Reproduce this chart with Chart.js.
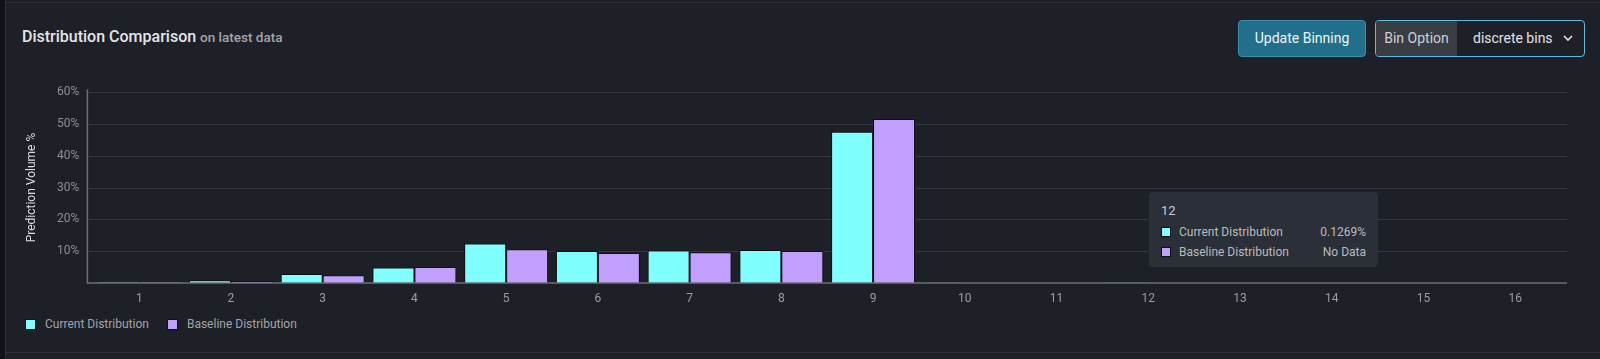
<!DOCTYPE html>
<html>
<head>
<meta charset="utf-8">
<script src="https://cdn.jsdelivr.net/npm/chart.js@4.4.0/dist/chart.umd.min.js"></script>
<style>
  html, body { margin: 0; padding: 0; }
  body { width: 1600px; height: 359px; background: #1e2028; font-family: Roboto, "Noto Sans", sans-serif; position: relative; overflow: hidden; }
  .strip { position: absolute; left: 0; top: 0; width: 5px; height: 359px; background: #111318; border-right: 1px solid #2c2f36; }
  .topline { position: absolute; left: 5px; right: 0; top: 2px; height: 1px; background: #2c2f36; }
  .botline { position: absolute; left: 5px; right: 0; top: 352px; height: 1px; background: #2c2f36; }
  .title { position: absolute; left: 22px; top: 27px; color: #e4e5e7; font-size: 16px; font-weight: 500; }
  .title span { color: #a3a5aa; font-size: 13.5px; }
  .btn { position: absolute; left: 1238px; top: 20px; width: 126px; height: 35px; background: #226f8c; border: 1px solid #3a8fb0; border-radius: 4px; color: #eef3f5; font-size: 14px; line-height: 35px; text-align: center; }
  .sel { position: absolute; left: 1375px; top: 20px; width: 208px; height: 35px; border: 1px solid #62b9de; border-radius: 4px; overflow: hidden; color: #e2e3e5; font-size: 14px; line-height: 35px; }
  .sel .lab { position: absolute; left: 0; top: 0; width: 81px; height: 35px; background: #3a3d44; color: #cfd1d4; text-align: center; }
  .sel .val { position: absolute; left: 97px; top: 0; }
  .sel svg { position: absolute; left: 187px; top: 14px; }
  #wrap { position: absolute; left: 0; top: 71px; width: 1600px; height: 239px; }
  .legend { position: absolute; top: 317px; left: 25px; font-size: 12px; color: #a2a4a9; display: flex; }
  .legend .it { display: flex; align-items: center; margin-right: 18px; }
  .legend i { display: inline-block; width: 9px; height: 9px; margin-right: 9px; border: 1px solid #111; }
  .tip { position: absolute; left: 1149px; top: 192px; width: 229px; height: 75px; background: #2b2f37; border-radius: 4px; font-size: 12px; color: #b9bbbf; }
  .tip .t { position: absolute; left: 12px; top: 11px; font-size: 13px; color: #c9cbce; }
  .tip .r { position: absolute; left: 12px; right: 12px; display: flex; align-items: center; }
  .tip .r i { display: inline-block; width: 8px; height: 8px; margin-right: 8px; border: 1px solid #111; }
  .tip .r b { font-weight: 400; margin-left: auto; }
</style>
</head>
<body>
<div class="strip"></div>
<div class="topline"></div>
<div class="botline"></div>
<div class="title">Distribution Comparison <span>on latest data</span></div>
<div class="btn">Update Binning</div>
<div class="sel"><div class="lab">Bin Option</div><div class="val">discrete bins</div>
  <svg width="10" height="7" viewBox="0 0 10 7"><path d="M1 1 L5 5 L9 1" stroke="#e2e3e5" stroke-width="1.6" fill="none"/></svg></div>
<div id="wrap"><canvas id="chart"></canvas></div>
<div class="legend" id="legend"></div>
<div class="tip" id="tip"></div>
<script>
const categories = ["1", "2", "3", "4", "5", "6", "7", "8", "9", "10", "11", "12", "13", "14", "15", "16"];
const currentValues = [0.3, 0.9, 2.8, 4.9, 12.4, 10.1, 10.2, 10.4, 47.6, 0.1, 0, 0.1269, 0, 0, 0, 0];
const baselineValues = [0.3, 0.6, 2.4, 5.0, 10.6, 9.4, 9.7, 10.1, 51.6, null, null, null, null, null, null, null];
const yTicks = [10, 20, 30, 40, 50, 60];
const seriesNames = ["Current Distribution", "Baseline Distribution"];
const seriesColors = ["#80ffff", "#c19fff"];
const tooltipIndex = 11;

// axis + grid lines that run a little past the plot area, like the original
const axisLines = {
  id: "axisLines",
  beforeDatasetsDraw(chart) {
    const { ctx, chartArea, scales } = chart;
    const l = chartArea.left - 6, r = chartArea.right + 6;
    ctx.save();
    ctx.strokeStyle = "#34373e";
    ctx.lineWidth = 1;
    yTicks.forEach(v => {
      const y = Math.round(scales.y.getPixelForValue(v)) + 0.5;
      ctx.beginPath(); ctx.moveTo(l, y); ctx.lineTo(r, y); ctx.stroke();
    });
    ctx.restore();
  },
  afterDatasetsDraw(chart) {
    const { ctx, chartArea, scales } = chart;
    const l = chartArea.left - 6, r = chartArea.right + 6;
    const y0 = scales.y.getPixelForValue(0);
    ctx.save();
    ctx.strokeStyle = "#6c6f74";
    ctx.lineWidth = 1.5;
    ctx.beginPath();
    ctx.moveTo(l, chartArea.top - 3);
    ctx.lineTo(l, y0);
    ctx.lineTo(r, y0);
    ctx.stroke();
    ctx.restore();
  }
};

new Chart(document.getElementById("chart"), {
  type: "bar",
  data: {
    labels: categories,
    datasets: [
      { label: seriesNames[0], data: currentValues, backgroundColor: seriesColors[0], borderColor: "#0d0f12", borderWidth: 1 },
      { label: seriesNames[1], data: baselineValues, backgroundColor: seriesColors[1], borderColor: "#0d0f12", borderWidth: 1 }
    ]
  },
  options: {
    responsive: true,
    maintainAspectRatio: false,
    animation: false,
    categoryPercentage: 0.915,
    barPercentage: 1,
    layout: { padding: { top: 3, right: 39, left: 25, bottom: 0 } },
    plugins: { legend: { display: false }, tooltip: { enabled: false } },
    scales: {
      x: {
        grid: { display: false, drawTicks: false },
        border: { display: false },
        ticks: { color: "#9b9da2", font: { family: "Roboto", size: 12 }, padding: 9 },
        afterFit(s) { s.height = 27; }
      },
      y: {
        min: 0, max: 60,
        afterBuildTicks(s) { s.ticks = yTicks.map(v => ({ value: v })); },
        grid: { display: false, drawTicks: false },
        border: { display: false },
        ticks: { color: "#8c8f94", font: { family: "Roboto", size: 12 }, padding: 14, callback: v => v + "%" },
        title: { display: true, text: "Prediction Volume %", color: "#dcdde0", font: { family: "Roboto", size: 12 }, padding: 0 },
        afterFit(s) { s.width = 68.4; }
      }
    }
  },
  plugins: [axisLines]
});

// legend
document.getElementById("legend").innerHTML = seriesNames.map((n, i) =>
  `<div class="it"><i style="background:${seriesColors[i]}"></i>${n}</div>`).join("");

// static hover tooltip for category 12
const fmt = v => (v === null || v === undefined) ? "No Data" : v + "%";
document.getElementById("tip").innerHTML =
  `<div class="t">${categories[tooltipIndex]}</div>` +
  `<div class="r" style="top:33px"><i style="background:${seriesColors[0]}"></i>${seriesNames[0]}<b>${fmt(currentValues[tooltipIndex])}</b></div>` +
  `<div class="r" style="top:53px"><i style="background:${seriesColors[1]}"></i>${seriesNames[1]}<b>${fmt(baselineValues[tooltipIndex])}</b></div>`;
</script>
</body>
</html>
